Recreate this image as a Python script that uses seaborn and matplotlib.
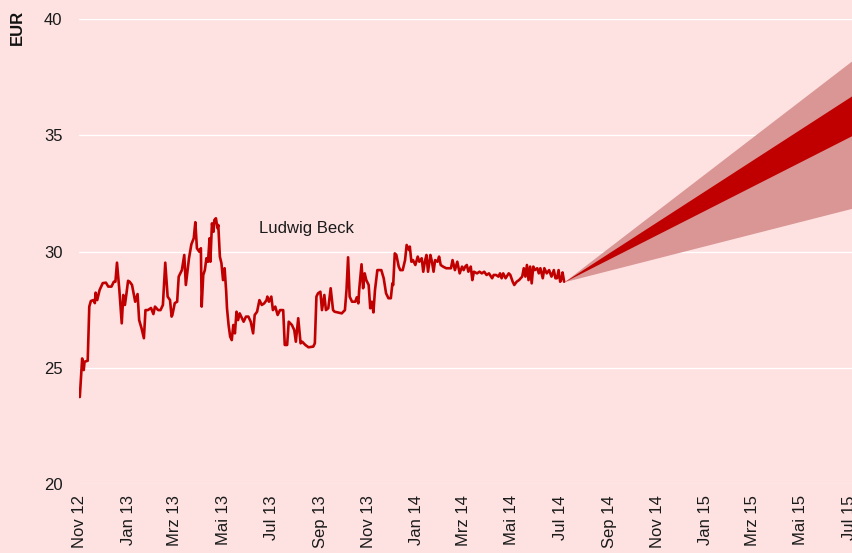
import matplotlib
matplotlib.use("Agg")
import matplotlib.pyplot as plt
import seaborn as sns
import pandas as pd
import numpy as np

# ---------------- data ----------------
start_date = "2012-11-01"
day_offsets = [0, 3, 5, 6, 10, 12, 14, 17, 19, 20, 22, 25, 29, 33, 36, 40, 43, 45, 47, 50,
               53, 55, 57, 59, 61, 63, 66, 70, 73, 75, 78, 81, 83, 86, 90, 93, 95, 99, 102, 105,
               108, 111, 114, 116, 117, 120, 123, 125, 129, 132, 134, 137, 138, 141, 144, 146, 148, 151, 153, 154,
               156, 158, 160, 162, 164, 165, 167, 169, 170, 172, 174, 175, 177, 179, 181, 183, 185, 186, 188, 190,
               192, 194, 196, 198, 200, 202, 205, 207, 210, 213, 216, 219, 221, 224, 227, 230, 233, 236, 237, 239,
               242, 244, 247, 250, 253, 257, 259, 262, 264, 268, 271, 273, 276, 279, 281, 285, 289, 295, 297, 299,
               301, 304, 306, 309, 311, 314, 317, 320, 322, 327, 331, 335, 337, 339, 341, 344, 348, 350, 352, 353,
               356, 358, 360, 362, 365, 367, 369, 371, 373, 376, 378, 381, 384, 387, 390, 393, 395, 396, 398, 400,
               403, 405, 408, 411, 413, 416, 417, 419, 421, 424, 427, 429, 432, 434, 436, 438, 440, 443, 445, 447,
               449, 452, 454, 456, 459, 463, 466, 469, 471, 474, 477, 480, 483, 485, 487, 489, 491, 494, 496, 498,
               502, 505, 508, 511, 514, 517, 521, 523, 526, 529, 531, 533, 535, 538, 542, 544, 547, 549, 552, 555,
               559, 561, 563, 565, 567, 569, 571, 573, 575, 578, 580, 582, 585, 587, 590, 593, 596, 599, 601, 603,
               605, 607, 609, 610, 612]
prices = [23.74, 25.40, 24.90, 25.26, 25.30, 27.63, 27.87, 27.91, 27.78, 28.23, 27.91, 28.34, 28.64, 28.66, 28.49, 28.49, 28.70, 28.70, 29.52, 28.34,
          26.91, 28.13, 27.70, 28.20, 28.74, 28.70, 28.56, 27.84, 28.17, 27.05, 26.70, 26.27, 27.48, 27.48, 27.57, 27.31, 27.63, 27.48, 27.48, 27.70,
          29.52, 28.06, 27.91, 27.20, 27.27, 27.78, 27.84, 28.92, 29.20, 29.85, 28.56, 29.42, 29.71, 30.31, 30.57, 31.26, 30.14, 29.99, 30.14, 27.63,
          28.99, 29.20, 29.71, 29.56, 30.57, 29.56, 31.21, 30.85, 31.35, 31.43, 31.00, 31.14, 29.78, 29.49, 28.77, 29.28, 28.27, 27.56, 26.84, 26.34,
          26.19, 26.84, 26.48, 27.41, 27.05, 27.34, 27.13, 26.98, 27.20, 27.20, 26.98, 26.48, 27.27, 27.41, 27.91, 27.70, 27.77, 27.91, 28.06, 27.84,
          28.06, 27.48, 27.63, 27.27, 27.48, 27.48, 25.98, 25.98, 26.98, 26.84, 26.62, 26.12, 27.13, 26.05, 26.12, 25.98, 25.88, 25.91, 26.05, 28.06,
          28.20, 28.27, 27.48, 28.13, 27.48, 27.56, 28.42, 27.48, 27.41, 27.37, 27.34, 27.48, 28.34, 29.75, 28.06, 27.84, 27.84, 28.03, 27.77, 28.34,
          29.45, 28.42, 29.06, 28.77, 28.56, 27.56, 27.84, 27.38, 28.34, 29.20, 29.20, 29.20, 28.85, 28.20, 27.99, 27.99, 28.63, 28.56, 29.92, 29.85,
          29.35, 29.20, 29.20, 29.63, 30.28, 30.06, 30.21, 29.56, 29.63, 29.42, 29.78, 29.56, 29.71, 29.13, 29.56, 29.85, 29.13, 29.85, 29.56, 29.13,
          29.63, 29.56, 29.78, 29.42, 29.35, 29.28, 29.28, 29.28, 29.63, 29.20, 29.56, 29.06, 29.35, 29.20, 29.35, 29.42, 29.13, 29.35, 28.77, 29.13,
          29.06, 29.13, 29.06, 29.13, 28.99, 29.06, 28.85, 28.99, 28.99, 28.92, 29.06, 28.85, 29.06, 28.85, 29.06, 28.99, 28.70, 28.56, 28.70, 28.77,
          28.92, 29.28, 28.92, 29.42, 28.77, 29.35, 28.63, 29.35, 29.20, 29.28, 29.06, 29.28, 28.85, 29.28, 29.06, 29.20, 28.92, 29.20, 28.85, 28.85,
          29.20, 28.70, 28.85, 29.10, 28.70]

# forecast fan (linear cone from last price)
fan_dates = ["2014-07-06", "2015-07-06"]
fan_outer_low = [28.70, 31.87]
fan_inner_low = [28.70, 35.01]
fan_inner_high = [28.70, 36.73]
fan_outer_high = [28.70, 38.24]

tick_dates = ["2012-11-01", "2013-01-01", "2013-03-01", "2013-05-01", "2013-07-01", "2013-09-01",
              "2013-11-01", "2014-01-01", "2014-03-01", "2014-05-01", "2014-07-01", "2014-09-01",
              "2014-11-01", "2015-01-01", "2015-03-01", "2015-05-01", "2015-07-01"]
tick_labels = ["Nov 12", "Jan 13", "Mrz 13", "Mai 13", "Jul 13", "Sep 13", "Nov 13", "Jan 14",
               "Mrz 14", "Mai 14", "Jul 14", "Sep 14", "Nov 14", "Jan 15", "Mrz 15", "Mai 15", "Jul 15"]
y_ticks = [20, 25, 30, 35, 40]

# ---------------- style ----------------
bg = "#FEE1E1"
line_col = "#C00000"
outer_col = "#D99694"

sns.set_theme(style="white")
plt.rcParams["font.family"] = ["Liberation Sans", "DejaVu Sans"]

df = pd.DataFrame({
    "date": pd.Timestamp(start_date) + pd.to_timedelta(day_offsets, unit="D"),
    "price": prices,
})
fan = pd.DataFrame({
    "date": pd.to_datetime(fan_dates),
    "olo": fan_outer_low, "ilo": fan_inner_low,
    "ihi": fan_inner_high, "ohi": fan_outer_high,
})

fig = plt.figure(figsize=(8.53, 5.53), dpi=100, facecolor=bg)
ax = fig.add_axes([79 / 853, 69 / 553, 1 - 79 / 853, (484 - 19) / 553])
ax.set_facecolor(bg)

ax.fill_between(fan["date"], fan["olo"], fan["ohi"], color=outer_col, linewidth=0, zorder=2)
ax.fill_between(fan["date"], fan["ilo"], fan["ihi"], color=line_col, linewidth=0, zorder=3)

sns.lineplot(data=df, x="date", y="price", ax=ax, color=line_col, linewidth=1.9,
             estimator=None, sort=False, zorder=4)

ax.set_ylim(20, 40)
ax.set_xlim(pd.Timestamp("2012-10-31"), pd.Timestamp(fan_dates[-1]))
ax.set_yticks(y_ticks)
ax.set_yticklabels([str(v) for v in y_ticks])
ax.set_xticks(pd.to_datetime(tick_dates))
ax.set_xticklabels(tick_labels, rotation=90, ha="center", va="top")

ax.grid(axis="y", color="white", linewidth=1.0)
ax.grid(axis="x", visible=False)
ax.set_axisbelow(True)
for s in ax.spines.values():
    s.set_visible(False)
ax.tick_params(axis="y", length=0, pad=12, labelsize=12, labelcolor="#1a1a1a")
ax.tick_params(axis="x", length=0, pad=8, labelsize=12, labelcolor="#1a1a1a")
ax.set_xlabel("")
ax.set_ylabel("")

ax.text(pd.Timestamp(start_date) + pd.Timedelta(days=286), 31.0, "Ludwig Beck",
        ha="center", va="center", fontsize=12, color="#1a1a1a")
fig.text(17 / 853, 1 - 27 / 553, "EUR", rotation=90, ha="center", va="center",
         fontsize=12, fontweight="bold", color="#111111")

fig.savefig("out.png", dpi=100, facecolor=bg)
